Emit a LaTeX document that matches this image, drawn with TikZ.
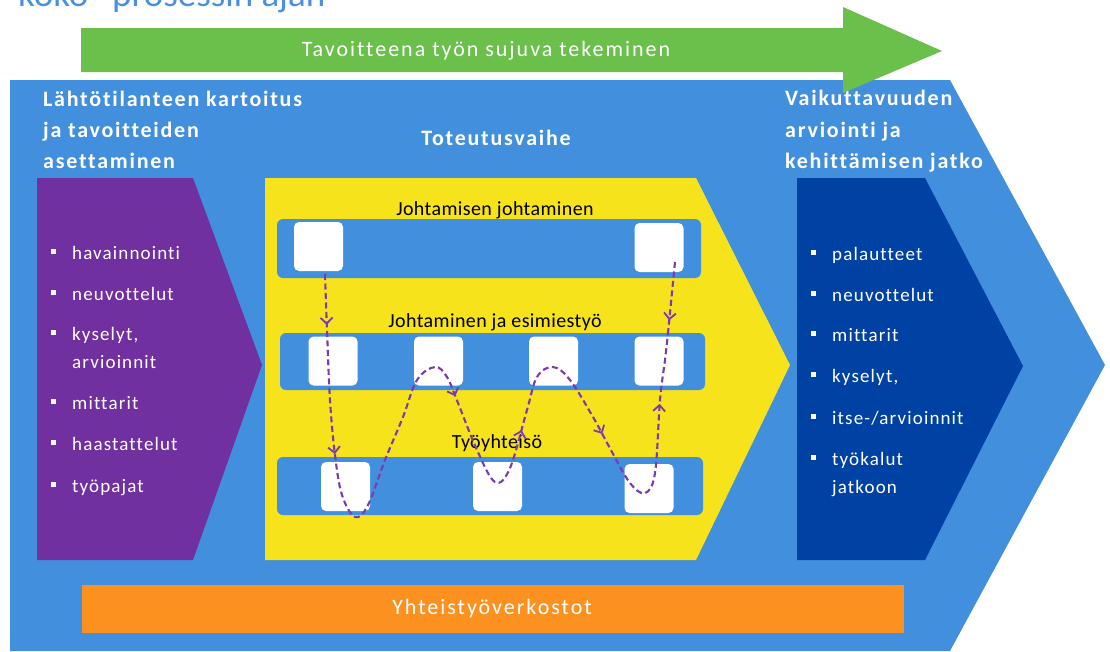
\documentclass[tikz,border=0pt]{standalone}
\usepackage{fontspec}
\setmainfont[Ligatures=NoCommon]{Carlito}
\newfontfamily\titlefont[LetterSpace=8,Ligatures=NoCommon]{Carlito}
\newfontfamily\itemfont[LetterSpace=6,Ligatures=NoCommon]{Carlito}
\newfontfamily\lblfont[LetterSpace=2,Ligatures=NoCommon]{Carlito}
\newfontfamily\bandfont[LetterSpace=9,Ligatures=NoCommon]{Carlito}
\usetikzlibrary{arrows.meta,decorations.markings}
\definecolor{cblue}{HTML}{428FDD}
\definecolor{cgreen}{HTML}{6BBF4B}
\definecolor{cpurple}{HTML}{7030A0}
\definecolor{cyellow}{HTML}{F6E31C}
\definecolor{cdark}{HTML}{0042A4}
\definecolor{corange}{HTML}{FD9120}
\definecolor{cwave}{HTML}{7A3AB0}
\definecolor{ctop}{HTML}{4A90E2}
\tikzset{
  lane/.style={fill=cblue, rounded corners=6pt, inner sep=0pt},
  sq/.style={fill=white, rounded corners=5pt, minimum width=49pt, minimum height=49pt, inner sep=0pt},
  ttl/.style={anchor=base west, inner sep=0pt, text=white, font=\titlefont\bfseries\fontsize{22}{26}\selectfont},
  itm/.style={anchor=base west, inner sep=0pt, text=white, font=\itemfont\fontsize{19}{23}\selectfont},
  lbl/.style={anchor=base, inner sep=0pt, text=black, font=\lblfont\fontsize{20}{24}\selectfont},
  band/.style={anchor=center, inner sep=0pt, text=white, font=\bandfont\fontsize{22}{26}\selectfont},
  flow/.style={draw=cwave, line width=2.1pt, dash pattern=on 6pt off 3.5pt},
  tipv/.tip={Straight Barb[length=6pt,width=12pt,line width=1.8pt]}
}
\newcommand{\bul}{\makebox[0pt][r]{\rule[5pt]{5pt}{5pt}\hspace{16pt}}}
\begin{document}
\begin{tikzpicture}[x=1pt,y=-1pt]
\useasboundingbox (0,0) rectangle (1110,651);
\clip (0,0) rectangle (1110,651);
% top clipped heading
\node[anchor=base west, inner sep=0pt, text=ctop, font=\fontsize{37}{42}\selectfont] (head) at (18,6) {koko” prosessin ajan};
% big chevron
\fill[cblue] (10,80) -- (950,80) -- (1105,365) -- (950,651) -- (10,651) -- cycle;
% green arrow
\fill[cgreen] (81,28) -- (843,28) -- (843,7) -- (942,51) -- (843,93) -- (843,72) -- (81,72) -- cycle;
\node[band] (goal) at (486,51) {Tavoitteena työn sujuva tekeminen};
% phases
\fill[cpurple] (37,178) -- (193,178) -- (262,365) -- (193,560) -- (37,560) -- cycle;
\fill[cyellow] (265,178) -- (696,178) -- (790,365) -- (696,560) -- (265,560) -- cycle;
\fill[cdark] (797,178) -- (925,178) -- (1023,366) -- (925,560) -- (797,560) -- cycle;
% orange band
\fill[corange] (82,585) rectangle (904,633);
\node[band] (net) at (492,609) {Yhteistyöverkostot};
% titles
\node[ttl] (t1a) at (43,106) {Lähtötilanteen kartoitus};
\node[ttl] (t1b) at (43,137) {ja tavoitteiden};
\node[ttl] (t1c) at (43,168) {asettaminen};
\node[ttl, anchor=base] (t2) at (496,145) {Toteutusvaihe};
\node[ttl] (t3a) at (785,105) {Vaikuttavuuden};
\node[ttl] (t3b) at (785,137) {arviointi ja};
\node[ttl] (t3c) at (785,168) {kehittämisen jatko};
% left list
\node[itm] (a1) at (72,259) {\bul havainnointi};
\node[itm] (a2) at (72,300) {\bul neuvottelut};
\node[itm] (a3) at (72,340) {\bul kyselyt,};
\node[itm] (a3b) at (72,368) {arvioinnit};
\node[itm] (a4) at (72,409) {\bul mittarit};
\node[itm] (a5) at (72,450) {\bul haastattelut};
\node[itm] (a6) at (72,492) {\bul työpajat};
% right list
\node[itm] (b1) at (832,260) {\bul palautteet};
\node[itm] (b2) at (832,301) {\bul neuvottelut};
\node[itm] (b3) at (832,341) {\bul mittarit};
\node[itm] (b4) at (832,382) {\bul kyselyt,};
\node[itm] (b5) at (832,424) {\bul itse-/arvioinnit};
\node[itm] (b6) at (832,465) {\bul työkalut};
\node[itm] (b6b) at (832,493) {jatkoon};
% lanes
\node[lane, minimum width=424pt, minimum height=59pt] (l1) at (489,248.5) {};
\node[lane, minimum width=425pt, minimum height=57pt] (l2) at (492.5,361.5) {};
\node[lane, minimum width=426pt, minimum height=58pt] (l3) at (490,486) {};
\node[lbl] (l1t) at (495,215) {Johtamisen johtaminen};
\node[lbl] (l2t) at (495,327) {Johtaminen ja esimiestyö};
\node[lbl] (l3t) at (497,448) {Työyhteisö};
\node[sq] (s11) at (318.5,246.5) {};
\node[sq] (s12) at (659,247.5) {};
\node[sq] (s21) at (333,361) {};
\node[sq] (s22) at (438.5,361) {};
\node[sq] (s23) at (553.5,361) {};
\node[sq] (s24) at (659,361) {};
\node[sq] (s31) at (345.5,486.5) {};
\node[sq] (s32) at (497.5,486.5) {};
\node[sq] (s33) at (649,488.5) {};
% flow
\coordinate (w0) at (325,274);
\coordinate (w1) at (668,333);
\coordinate (r0) at (675,262);
\draw[flow, postaction={decorate}, decoration={markings,
  mark=at position 0.05 with {\arrow{tipv}},
  mark=at position 0.177 with {\arrow{tipv}},
  mark=at position 0.453 with {\arrow{tipv}},
  mark=at position 0.608 with {\arrow{tipv}},
  mark=at position 0.765 with {\arrow{tipv}},
  mark=at position 0.93 with {\arrow{tipv}}}]
  plot[smooth, tension=0.6] coordinates {(w0) (327,330) (330,400) (335,455) (342,495) (355,517) (368,505) (385,460) (403,417) (417,380) (435,367) (447,377) (458,403) (477,450) (495,482) (510,468) (527,410) (537,377) (553,367) (570,380) (593,417) (612,452) (630,483) (645,493) (655,473) (660,400) (665,360) (w1)};
\draw[flow, postaction={decorate}, decoration={markings,
  mark=at position 0.82 with {\arrow{tipv}}}] (r0) -- (w1);
\end{tikzpicture}
\end{document}
